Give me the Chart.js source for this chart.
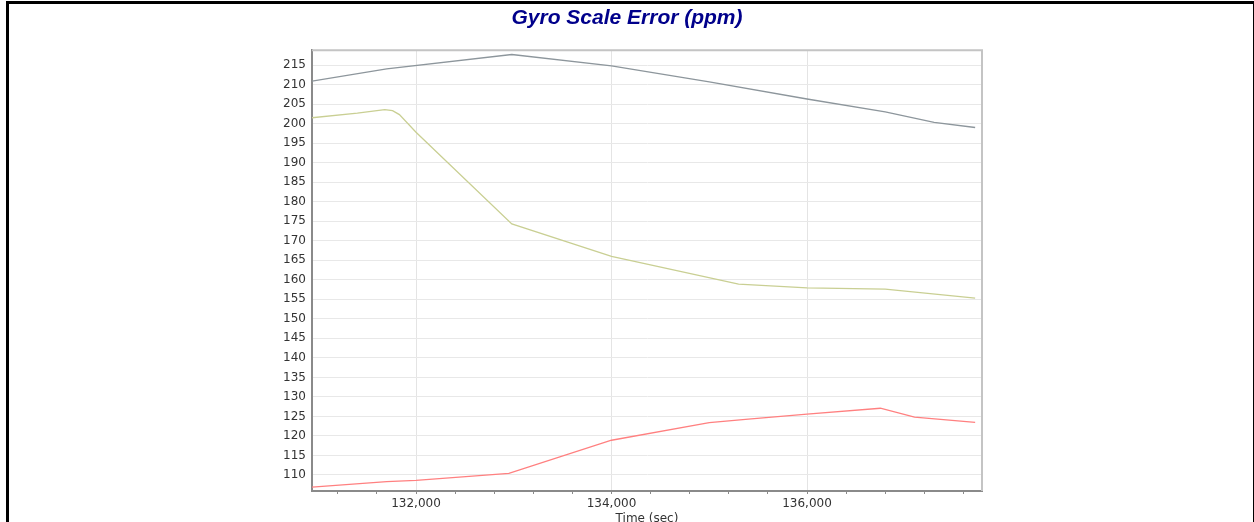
<!DOCTYPE html>
<html>
<head>
<meta charset="utf-8">
<script src="https://cdn.jsdelivr.net/npm/chart.js@4.4.0/dist/chart.umd.min.js"></script>
<style>
  html, body { margin: 0; padding: 0; background: #fff; overflow: hidden; width: 1254px; height: 522px; }
  #wrap { position: relative; width: 1254px; height: 522px; }
  #chart { position: absolute; left: 0; top: 0; }
  #frame { position: absolute; left: 6px; top: 1px; width: 1244px; height: 560px;
           border: 3px solid #000; border-bottom: none; pointer-events: none; }
</style>
</head>
<body>
<div id="wrap">
  <canvas id="chart" width="1254" height="526"></canvas>
  <div id="frame"></div>
</div>
<script>
// Valores (tempo em segundos, erro em ppm)
const grayTimes  = [130936, 131700, 132980, 134000, 135000, 136000, 136800, 137300, 137720];
const grayValues = [210.9, 214.0, 217.7, 214.8, 210.7, 206.3, 203.0, 200.3, 199.0];

const oliveTimes  = [130936, 131400, 131680, 131760, 131830, 132000, 132980, 134000, 135300, 136000, 136800, 137720];
const oliveValues = [201.5, 202.7, 203.6, 203.3, 202.3, 197.8, 174.3, 166.0, 158.9, 157.9, 157.6, 155.3];

const redTimes  = [130936, 131700, 132000, 132950, 134000, 135000, 135400, 136000, 136750, 137100, 137720];
const redValues = [106.9, 108.3, 108.6, 110.4, 118.9, 123.4, 124.3, 125.6, 127.1, 124.8, 123.5];

const xMin = 130936, xMax = 137790;
const yMin = 105.9, yMax = 218.8;
const xMinorStep = 400, xMajorStep = 2000;

function toPoints(times, values) {
    return times.map((t, i) => ({ x: t, y: values[i] }));
}

// Moldura cinza ao redor da área do gráfico
const plotBorder = {
    id: 'plotBorder',
    afterDraw(chart) {
        const { ctx, chartArea: a } = chart;
        ctx.save();
        ctx.strokeStyle = '#c4c4c4';
        ctx.lineWidth = 2;
        ctx.beginPath();
        ctx.moveTo(a.left, a.top);
        ctx.lineTo(a.right, a.top);
        ctx.lineTo(a.right, a.bottom);
        ctx.stroke();
        ctx.restore();
    }
};

const ctx = document.getElementById('chart').getContext('2d');
const myChart = new Chart(ctx, {
    type: 'line',
    data: {
        datasets: [
            { label: 'X', data: toPoints(grayTimes, grayValues), borderColor: '#8d969c' },
            { label: 'Y', data: toPoints(oliveTimes, oliveValues), borderColor: '#c9cf93' },
            { label: 'Z', data: toPoints(redTimes, redValues), borderColor: '#ff8080' }
        ]
    },
    options: {
        responsive: false,
        animation: false,
        devicePixelRatio: 1,
        layout: { padding: { left: 272, right: 272, top: 0, bottom: 0 } },
        elements: {
            line: { tension: 0, borderWidth: 1.3, fill: false },
            point: { radius: 0 }
        },
        plugins: {
            legend: { display: false },
            tooltip: { enabled: false },
            title: {
                display: true,
                text: 'Gyro Scale Error (ppm)',
                color: '#00008b',
                font: { family: 'Liberation Sans', size: 21, weight: 'bold', style: 'italic' },
                padding: { top: 6, bottom: 19 }
            }
        },
        scales: {
            x: {
                type: 'linear',
                min: xMin,
                max: xMax,
                afterFit: scale => { scale.height = 35; },
                afterBuildTicks: scale => {
                    const ticks = [];
                    for (let v = Math.ceil(xMin / xMinorStep) * xMinorStep; v <= xMax; v += xMinorStep) {
                        ticks.push({ value: v });
                    }
                    scale.ticks = ticks;
                },
                grid: {
                    color: c => (c.tick && c.tick.value % xMajorStep === 0) ? '#e4e4e4' : 'rgba(0,0,0,0)',
                    tickColor: '#8a8a8a',
                    tickLength: 3,
                    drawTicks: true
                },
                border: { color: '#8a8a8a', width: 2 },
                ticks: {
                    autoSkip: false,
                    maxRotation: 0,
                    padding: 3,
                    color: '#333',
                    font: { family: 'DejaVu Sans', size: 12 },
                    callback: v => v % xMajorStep === 0 ? v.toLocaleString('en-US') : ''
                },
                title: {
                    display: true,
                    text: 'Time (sec)',
                    color: '#333',
                    font: { family: 'DejaVu Sans', size: 12 },
                    padding: { top: 0, bottom: 0 }
                }
            },
            y: {
                type: 'linear',
                min: yMin,
                max: yMax,
                afterFit: scale => { scale.width = 40; },
                grid: { color: '#e8e8e8', drawTicks: false },
                border: { color: '#8a8a8a', width: 2 },
                ticks: {
                    stepSize: 5,
                    includeBounds: false,
                    padding: 6,
                    color: '#333',
                    font: { family: 'DejaVu Sans', size: 12 }
                }
            }
        }
    },
    plugins: [plotBorder]
});
</script>
</body>
</html>
